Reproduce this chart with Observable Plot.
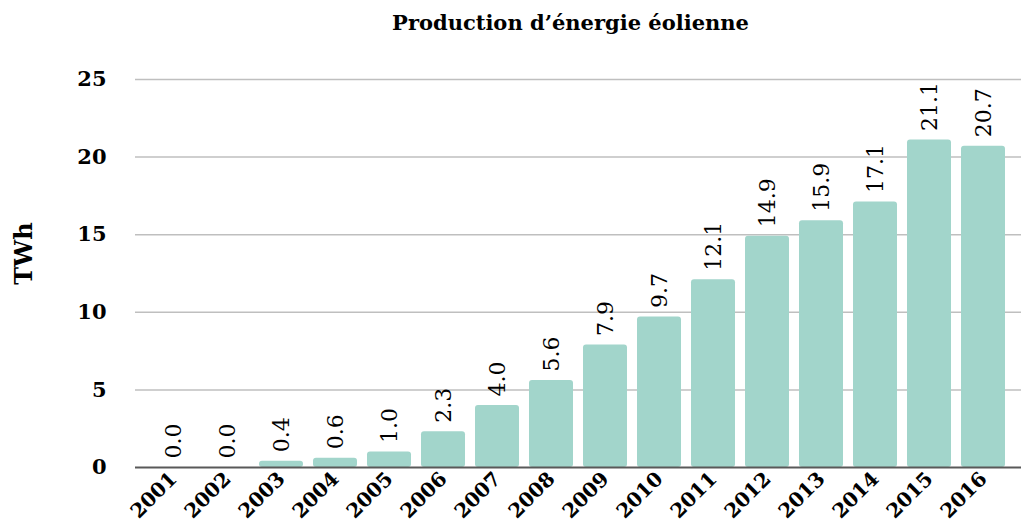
<!DOCTYPE html>
<html>
<head>
<meta charset="utf-8">
<script src="https://cdn.jsdelivr.net/npm/d3@7"></script>
<script src="https://cdn.jsdelivr.net/npm/@observablehq/plot@0.6"></script>
<style>
  html, body { margin: 0; padding: 0; background: #fff; }
  svg { display: block; }
</style>
</head>
<body>
<div id="chart"></div>
<script>
const years = ["2001","2002","2003","2004","2005","2006","2007","2008","2009","2010","2011","2012","2013","2014","2015","2016"];
const production = [0.0, 0.0, 0.4, 0.6, 1.0, 2.3, 4.0, 5.6, 7.9, 9.7, 12.1, 14.9, 15.9, 17.1, 21.1, 20.7];
const yTicks = [0, 5, 10, 15, 20, 25];
const title = "Production d’énergie éolienne";
const yLabel = "TWh";

const data = years.map((year, i) => ({year, value: production[i]}));
const font = "DejaVu Serif";

const chart = Plot.plot({
  width: 1021,
  height: 523,
  marginTop: 79,
  marginBottom: 56,
  marginLeft: 135,
  marginRight: 0,
  style: {fontFamily: font, background: "#fff", color: "#000"},
  x: {domain: years, padding: 0.19, axis: null},
  y: {domain: [0, 25], axis: null},
  marks: [
    Plot.ruleY(yTicks.filter(d => d > 0), {stroke: "#bfbfbf", strokeWidth: 1.5}),
    Plot.barY(data, {x: "year", y: "value", fill: "#a2d5cb", rx: 3}),
    Plot.ruleY([0], {stroke: "#595959", strokeWidth: 2}),
    Plot.text(yTicks, {y: d => d, text: d => String(d), frameAnchor: "left", textAnchor: "end", lineAnchor: "middle", dx: -29, fontSize: 21, fontWeight: "bold"}),
    Plot.text(data, {x: "year", y: "value", text: d => d.value.toFixed(1), rotate: -90, textAnchor: "start", lineAnchor: "middle", dy: -9, fontSize: 22}),
    Plot.text(years, {x: d => d, frameAnchor: "bottom", text: d => d, rotate: -45, textAnchor: "end", lineAnchor: "middle", dx: 0, dy: 8, fontSize: 20, fontWeight: "bold"}),
    Plot.text([yLabel], {frameAnchor: "left", rotate: -90, textAnchor: "middle", lineAnchor: "middle", dx: -111, dy: -20, fontSize: 24, fontWeight: "bold"}),
    Plot.text([title], {frameAnchor: "top", textAnchor: "middle", lineAnchor: "middle", dx: -8, dy: -56, fontSize: 21, fontWeight: "bold"})
  ]
});
document.getElementById("chart").appendChild(chart);
</script>
</body>
</html>
